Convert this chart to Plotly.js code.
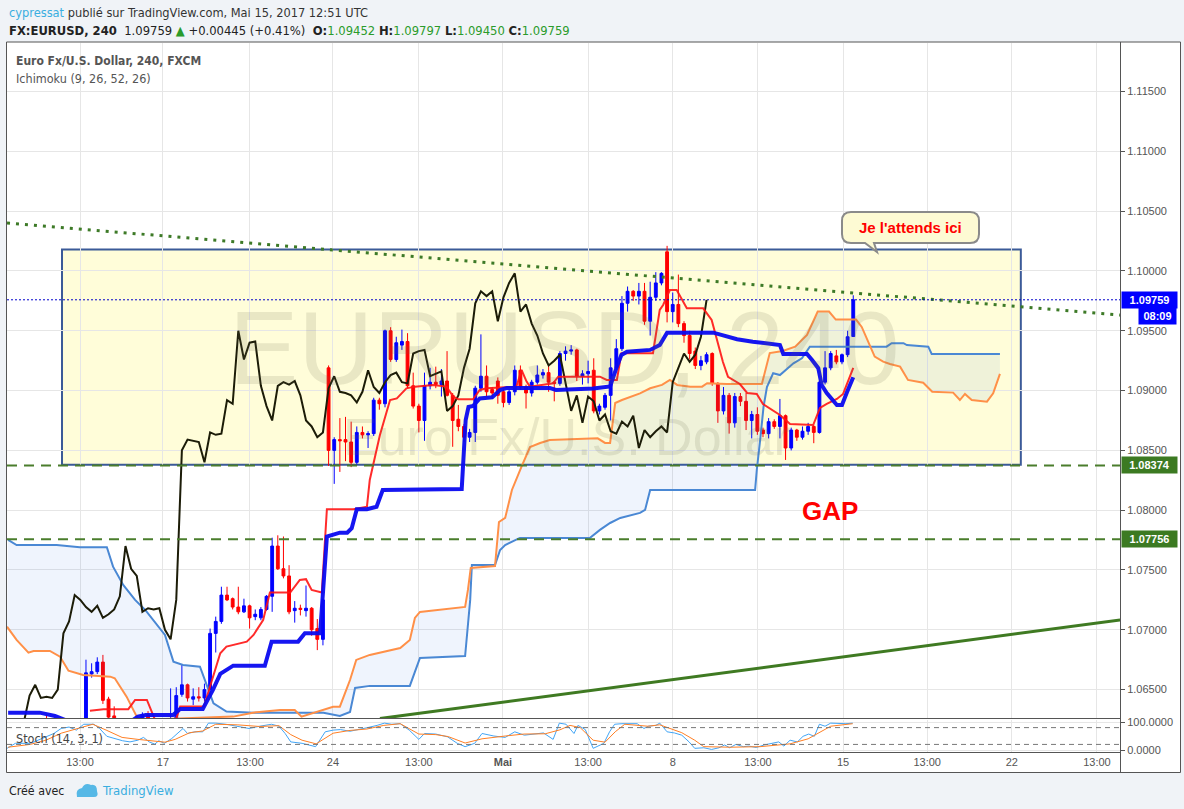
<!DOCTYPE html>
<html><head><meta charset="utf-8">
<script src="https://cdn.plot.ly/plotly-3.0.1.min.js"></script>
<style>html,body{margin:0;padding:0;background:#f0f3f7;}#chart{width:1184px;height:809px;}</style>
</head><body><div id="chart"></div>
<script>
// ---- OHLC, 4h bars (bar index = position in arrays) ----
const openP = [
1.0612,1.0616,1.0618,1.0614,1.0609,1.0612,1.0620,1.0615,1.0611,1.0614,
1.0610,1.0608,1.0612,1.0619,1.0663,1.0665,1.0673,1.0642,1.0628,1.0615,
1.0611,1.0616,1.0613,1.0618,1.0629,1.0622,1.0614,1.0617,1.0620,1.0621,
1.0646,1.0654,1.0642,1.0644,1.0643,1.0650,1.0697,1.0707,1.0729,1.0726,
1.0719,1.0715,1.0720,1.0711,1.0710,1.0717,1.0728,1.0770,1.0751,1.0745,
1.0716,1.0718,1.0716,1.0718,1.0701,1.0692,1.0919,1.0850,1.0859,1.0859,
1.0857,1.0840,1.0865,1.0863,1.0864,1.0892,1.0889,1.0950,1.0926,1.0938,
1.0941,1.0904,1.0887,1.0875,1.0904,1.0907,1.0905,1.0908,1.0896,1.0876,
1.0870,1.0861,1.0865,1.0902,1.0912,1.0901,1.0908,1.0899,1.0890,1.0899,
1.0917,1.0903,1.0898,1.0907,1.0913,1.0915,1.0907,1.0906,1.0931,1.0933,
1.0934,1.0912,1.0914,1.0917,1.0883,1.0886,1.0896,1.0919,1.0935,1.0973,
1.0983,1.0979,1.0983,1.0958,1.0978,1.0990,1.1016,1.0966,1.0972,1.0956,
1.0946,1.0933,1.0921,1.0924,1.0931,1.0906,1.0883,1.0896,1.0873,1.0895,
1.0891,1.0875,1.0880,1.0867,1.0864,1.0874,1.0870,1.0879,1.0852,1.0867,
1.0861,1.0866,1.0870,1.0865,1.0907,1.0919,1.0929,1.0924,1.0930,1.09452];
const highP = [
1.0620,1.0622,1.0624,1.0620,1.0617,1.0623,1.0629,1.0621,1.0618,1.0620,
1.0616,1.0615,1.0622,1.0675,1.0672,1.0677,1.0679,1.0644,1.0636,1.0621,
1.0619,1.0622,1.0620,1.0631,1.0632,1.0625,1.0621,1.0623,1.0651,1.0652,
1.0671,1.0655,1.0651,1.0652,1.0655,1.0701,1.0711,1.0736,1.0736,1.0727,
1.0736,1.0726,1.0721,1.0717,1.0719,1.0729,1.0777,1.0779,1.0778,1.0754,
1.0724,1.0721,1.0737,1.0719,1.0709,1.0726,1.0921,1.0861,1.0877,1.0878,
1.0874,1.0870,1.0870,1.0866,1.0894,1.0894,1.0951,1.0953,1.0945,1.0951,
1.0948,1.0915,1.0889,1.0915,1.0919,1.0920,1.0918,1.0933,1.0898,1.0888,
1.0872,1.0868,1.0904,1.0947,1.0921,1.0903,1.0911,1.0901,1.0901,1.0921,
1.0921,1.0905,1.0909,1.0921,1.0918,1.0921,1.0908,1.0933,1.0937,1.0938,
1.0935,1.0917,1.0925,1.0927,1.0889,1.0898,1.0927,1.0943,1.0979,1.0987,
1.0984,1.0990,1.0990,1.0991,1.0999,1.0999,1.1021,1.0982,1.0997,1.0958,
1.0950,1.0936,1.0929,1.0932,1.0932,1.0907,1.0903,1.0898,1.0898,1.0898,
1.0898,1.0883,1.0886,1.0869,1.0877,1.0876,1.0893,1.0880,1.0869,1.0868,
1.0870,1.0873,1.0871,1.0908,1.0933,1.0933,1.0934,1.0931,1.0950,1.09797];
const lowP = [
1.0605,1.0610,1.0612,1.0606,1.0603,1.0608,1.0611,1.0608,1.0604,1.0607,
1.0602,1.0601,1.0606,1.0612,1.0660,1.0663,1.0638,1.0620,1.0610,1.0605,
1.0604,1.0609,1.0607,1.0615,1.0618,1.0610,1.0606,1.0609,1.0614,1.0616,
1.0644,1.0640,1.0637,1.0640,1.0640,1.0646,1.0681,1.0705,1.0724,1.0717,
1.0713,1.0714,1.0701,1.0708,1.0708,1.0716,1.0715,1.0750,1.0743,1.0713,
1.0706,1.0712,1.0711,1.0695,1.0683,1.0687,1.0837,1.0822,1.0832,1.0841,
1.0836,1.0838,1.0860,1.0852,1.0862,1.0884,1.0886,1.0924,1.0924,1.0934,
1.0902,1.0885,1.0865,1.0858,1.0901,1.0902,1.0895,1.0895,1.0853,1.0866,
1.0857,1.0857,1.0857,1.0899,1.0895,1.0893,1.0889,1.0886,1.0888,1.0896,
1.0901,1.0885,1.0895,1.0905,1.0910,1.0899,1.0891,1.0904,1.0925,1.0930,
1.0908,1.0905,1.0906,1.0881,1.0880,1.0884,1.0875,1.0917,1.0933,1.0966,
1.0975,1.0972,1.0955,1.0946,1.0975,1.0988,1.0957,1.0957,1.0953,1.0940,
1.0926,1.0918,1.0917,1.0922,1.0904,1.0873,1.0880,1.0864,1.0869,1.0887,
1.0867,1.0860,1.0863,1.0861,1.0860,1.0868,1.0860,1.0842,1.0850,1.0858,
1.0859,1.0863,1.0856,1.0864,1.0905,1.0917,1.0922,1.0922,1.0928,1.09450];
const closeP = [
1.0616,1.0618,1.0614,1.0609,1.0612,1.0620,1.0615,1.0611,1.0614,1.0610,
1.0608,1.0612,1.0619,1.0664,1.0665,1.0673,1.0641,1.0627,1.0615,1.0611,
1.0616,1.0613,1.0618,1.0629,1.0622,1.0614,1.0617,1.0620,1.0623,1.0645,
1.0654,1.0643,1.0644,1.0643,1.0650,1.0697,1.0707,1.0729,1.0725,1.0719,
1.0715,1.0720,1.0710,1.0713,1.0717,1.0728,1.0770,1.0751,1.0745,1.0715,
1.0718,1.0717,1.0718,1.0700,1.0692,1.0725,1.0850,1.0859,1.0858,1.0857,
1.0840,1.0865,1.0863,1.0864,1.0892,1.0889,1.0950,1.0926,1.0940,1.0941,
1.0904,1.0887,1.0875,1.0904,1.0907,1.0905,1.0908,1.0896,1.0875,1.0870,
1.0861,1.0865,1.0902,1.0912,1.0899,1.0898,1.0896,1.0890,1.0899,1.0917,
1.0903,1.0898,1.0907,1.0913,1.0915,1.0907,1.0906,1.0931,1.0933,1.0934,
1.0912,1.0914,1.0916,1.0883,1.0887,1.0896,1.0919,1.0935,1.0973,1.0983,
1.0979,1.0983,1.0958,1.0978,1.0990,1.0998,1.0966,1.0972,1.0956,1.0946,
1.0931,1.0921,1.0925,1.0930,1.0906,1.0883,1.0896,1.0873,1.0895,1.0891,
1.0875,1.0880,1.0866,1.0864,1.0874,1.0870,1.0879,1.0852,1.0867,1.0861,
1.0866,1.0870,1.0865,1.0907,1.0919,1.0931,1.0924,1.0930,1.0945,1.09759];

// ---- Ichimoku (9, 26, 52, 26): line vertices (bar index, price) ----
const tenkanX = [13.7,16.1,20.5,21.7,23.8,24.6,25.4,28.8,29.7,33.9,35.6,36.8,37.9,39.1,41.5,42.7,44.4,45.6,49.2,50.9,52.0,53.0,54.8,55.7,60.4,62.8,63.3,65.1,66.9,68.1,69.8,71.3,74.5,76.9,78.1,79.0,81.6,82.8,84.0,89.3,90.2,91.1,91.7,95.8,96.7,104.1,105.3,107.1,107.9,113.5,114.7,115.3,116.5,117.7,119.5,122.4,123.9,125.9,126.8,128.9,130.2,131.9,133.0,136.0,137.8,141.9,143.1,144.3,146.1,147.2,149.0];
const tenkanY = [1.06324,1.06336,1.06336,1.06414,1.06414,1.06316,1.06229,1.06229,1.06358,1.06358,1.06608,1.06804,1.06859,1.06873,1.06901,1.06957,1.07082,1.07311,1.07311,1.07417,1.07423,1.07333,1.07311,1.08008,1.08008,1.08029,1.08253,1.08629,1.08921,1.08935,1.09019,1.09033,1.09047,1.09033,1.08949,1.08927,1.08927,1.09005,1.09019,1.09033,1.09172,1.09075,1.09033,1.09061,1.09116,1.09116,1.09089,1.09089,1.09312,1.09312,1.09674,1.09716,1.09841,1.09841,1.09688,1.09688,1.09590,1.09239,1.09114,1.09055,1.08980,1.08972,1.08888,1.08796,1.08721,1.08712,1.08855,1.08888,1.08930,1.08972,1.09189];
const kijunX = [-0.8,4.8,7.5,10.2,20.8,22.2,23.6,28.4,29.7,33.7,35.5,36.8,39.1,44.7,45.9,50.6,51.8,54.5,55.7,58.0,59.3,60.1,61.0,62.8,64.5,65.6,79.6,80.3,80.8,81.6,82.8,85.0,86.4,87.6,95.2,96.3,102.9,105.9,107.1,107.9,108.9,113.0,114.7,116.0,124.2,126.6,128.4,131.2,136.0,136.6,140.8,141.7,142.8,143.4,144.3,146.1,147.0,147.9,149.0];
const kijunY = [1.06307,1.06307,1.06279,1.06229,1.06229,1.06274,1.06288,1.06288,1.06338,1.06338,1.06497,1.06631,1.06700,1.06700,1.06901,1.06901,1.06971,1.06971,1.07779,1.07812,1.07812,1.07849,1.08008,1.08008,1.08029,1.08169,1.08177,1.08754,1.08863,1.08871,1.08934,1.08944,1.09005,1.09022,1.09022,1.09005,1.09018,1.09034,1.09200,1.09298,1.09325,1.09340,1.09381,1.09484,1.09484,1.09451,1.09429,1.09409,1.09381,1.09306,1.09306,1.09256,1.09187,1.09047,1.08980,1.08880,1.08880,1.08988,1.09111];
const senkouAX = [-1.0,0.7,2.8,3.7,6.6,8.4,9.9,12.5,17.3,18.1,20.2,22.3,39.1,42.6,47.4,50.0,51.2,56.8,58.0,59.8,60.9,63.3,68.7,70.4,71.3,72.2,80.2,80.7,81.2,85.5,86.2,87.3,88.5,89.2,90.2,91.7,93.5,95.2,103.7,105.0,105.9,106.8,108.0,111.2,113.0,115.1,116.5,117.8,120.1,122.2,123.1,126.6,132.8,134.2,136.5,138.7,140.8,142.7,144.7,145.9,149.5,150.5,151.6,152.8,154.3,155.5,157.3,158.7,161.4,163.0,166.7,167.9,168.8,170.0,172.7,173.8,175.0];
const senkouAY = [1.07026,1.06915,1.06809,1.06823,1.06823,1.06775,1.06658,1.06622,1.06608,1.06595,1.06441,1.06246,1.06274,1.06307,1.06329,1.06329,1.06274,1.06357,1.06357,1.06580,1.06748,1.06790,1.06848,1.06915,1.07099,1.07149,1.07191,1.07333,1.07517,1.07533,1.07901,1.07935,1.08169,1.08253,1.08364,1.08528,1.08562,1.08587,1.08601,1.08562,1.08562,1.08896,1.08921,1.08977,1.09019,1.09047,1.09089,1.09047,1.09033,1.09033,1.09061,1.09055,1.09055,1.09314,1.09331,1.09367,1.09465,1.09661,1.09661,1.09594,1.09594,1.09532,1.09409,1.09284,1.09242,1.09222,1.09200,1.09089,1.09066,1.08991,1.08983,1.08921,1.08972,1.08921,1.08907,1.08977,1.09139];
const senkouBX = [-0.8,0.7,7.8,11.9,16.7,17.8,19.6,21.7,23.5,25.5,27.0,28.5,30.2,33.2,35.6,37.9,42.7,55.1,58.0,59.8,60.7,63.3,70.4,71.3,72.2,80.2,81.1,81.4,85.5,86.4,87.3,89.9,102.3,104.1,105.9,107.7,111.2,112.1,113.0,131.6,131.9,132.5,133.1,133.7,134.8,136.0,138.4,139.9,141.3,154.9,155.8,157.9,158.5,162.3,162.9,175.0];
const senkouBY = [1.07751,1.07709,1.07709,1.07690,1.07690,1.07528,1.07375,1.07250,1.07166,1.07041,1.06957,1.06734,1.06706,1.06692,1.06386,1.06316,1.06307,1.06307,1.06279,1.06313,1.06514,1.06531,1.06531,1.06648,1.06765,1.06781,1.07250,1.07542,1.07542,1.07667,1.07709,1.07768,1.07768,1.07835,1.07893,1.07935,1.07977,1.08002,1.08169,1.08169,1.08336,1.08587,1.08865,1.09030,1.09145,1.09130,1.09228,1.09270,1.09367,1.09367,1.09396,1.09396,1.09381,1.09367,1.09306,1.09306];
const chikouShift = 26;

// ---- Stoch (14, 3, 1): vertices (bar index, value) ----
const stochKX = [-1.0,0.5,3.2,4.5,5.9,7.3,8.6,10.0,11.3,12.6,14.4,15.4,16.7,18.1,19.5,20.8,22.2,23.2,24.2,25.2,25.9,26.9,28.2,30.2,31.0,32.3,33.7,34.7,36.0,37.8,39.8,41.9,43.8,45.9,47.2,48.3,49.3,51.3,53.7,55.4,56.8,58.1,59.8,61.5,62.9,64.6,65.9,67.2,68.7,70.3,72.0,73.0,75.0,77.1,78.8,80.2,81.9,83.2,85.3,87.3,89.0,90.7,92.7,94.1,95.8,96.9,98.1,99.5,100.2,101.5,102.9,104.1,104.8,105.8,106.7,108.0,109.4,110.7,111.9,112.7,114.0,114.7,116.0,117.3,118.6,119.9,120.9,122.5,123.9,125.2,126.2,127.1,128.2,129.5,130.5,131.8,133.2,134.4,135.8,136.7,137.8,139.1,140.1,141.1,142.1,143.0,144.0,145.0,146.3,147.7,148.9];
const stochKY = [6,24,24,35,45,59,77,82,71,92,92,77,49,41,33,29,35,45,29,21,33,24,41,77,59,65,65,96,96,92,85,77,85,92,85,59,29,24,12,65,71,73,67,73,80,88,96,92,94,71,38,59,57,47,24,12,24,59,50,45,65,53,59,61,38,96,92,59,88,73,6,18,24,65,92,94,94,94,77,85,88,96,65,61,53,29,6,8,2,8,18,8,20,12,14,9,18,24,29,14,35,29,49,57,49,92,85,96,94,94,96];
const stochDX = [-0.8,3.1,5.9,8.6,11.2,14.2,16.7,19.4,22.2,25.2,27.0,28.8,31.4,33.7,36.0,39.8,43.8,47.2,49.3,51.3,53.8,56.8,59.8,62.8,65.8,68.7,72.0,75.0,77.2,80.2,83.2,87.3,90.6,94.4,97.0,98.8,100.6,102.9,105.0,106.8,108.5,112.6,114.7,118.6,120.9,122.5,127.2,132.5,137.8,141.0,142.9,145.0,148.9];
const stochDY = [10,20,35,60,75,92,70,45,38,33,28,38,62,68,92,90,84,87,55,35,22,60,70,75,88,94,57,55,48,25,40,50,57,58,72,88,80,35,28,65,92,85,90,62,35,12,10,12,22,40,60,85,94];

// ---- axis labels ----
const timeTickPos = [11.94,26.65,42.07,56.78,72.0,86.9,102.0,117.0,132.1,147.2,162.1,177.1,192.2];
const timeTickText = ["13:00","17","13:00","24","13:00","<b>Mai</b>","13:00","8","13:00","15","13:00","22","13:00"];
const priceTicks = [1.065,1.070,1.075,1.080,1.085,1.090,1.095,1.100,1.105,1.110,1.115];
const lastPrice = 1.09759, gapTop = 1.08374, gapBottom = 1.07756;
const boxLow = 1.0838, boxHigh = 1.1018, boxFrom = 8.75, boxTo = 178.7;
const trendDots = {x0:-1.0, y0:1.10401, x1:196.3, y1:1.09632};
const trendUp = {x0:65.1, y0:1.06258, x1:196.3, y1:1.07082};

// ---- pixel helpers for decorations ----
const PX0=7, PX1=1120, PY0=43, PY1=752;
const px = x => (x-PX0)/(PX1-PX0);
const py = y => (PY1-y)/(PY1-PY0);
function pathPx(cmds){
  return cmds.map(c=>{let s=c[0];for(let k=1;k<c.length;k+=2){s+=' '+px(c[k]).toFixed(5)+','+py(c[k+1]).toFixed(5);}return s;}).join(' ')+' Z';
}

const idx = openP.map((_,i)=>i);
const chX = closeP.map((_,i)=>i-chikouShift);

const FONT = '"Liberation Sans Narrow","DejaVu Sans Condensed","Liberation Sans",Arial,sans-serif';
const AFONT = '"Liberation Sans",Arial,sans-serif';

const traces = [
  {type:'scatter',mode:'lines',x:senkouBX,y:senkouBY,line:{color:'#4a88d4',width:2},xaxis:'x',yaxis:'y',hoverinfo:'skip'},
  {type:'scatter',mode:'lines',x:senkouAX,y:senkouAY,line:{color:'#ff9048',width:2},fill:'tonexty',fillcolor:'rgba(40,110,230,0.075)',xaxis:'x',yaxis:'y',hoverinfo:'skip'},
  {type:'candlestick',x:idx,open:openP,high:highP,low:lowP,close:closeP,xaxis:'x',yaxis:'y',whiskerwidth:0,
    increasing:{line:{color:'#0000ff',width:1},fillcolor:'#0000ff'},
    decreasing:{line:{color:'#ff0000',width:1},fillcolor:'#ff0000'},hoverinfo:'skip'},
  {type:'scatter',mode:'lines',x:chX,y:closeP,line:{color:'#1c1c08',width:2},xaxis:'x',yaxis:'y',hoverinfo:'skip'},
  {type:'scatter',mode:'lines',x:tenkanX,y:tenkanY,line:{color:'rgba(255,20,20,0.9)',width:2},xaxis:'x',yaxis:'y',hoverinfo:'skip'},
  {type:'scatter',mode:'lines',x:kijunX,y:kijunY,line:{color:'rgba(10,10,240,0.95)',width:4},xaxis:'x',yaxis:'y',hoverinfo:'skip'},
  {type:'scatter',mode:'lines',x:stochKX,y:stochKY,line:{color:'#42a5f5',width:1},xaxis:'x',yaxis:'y2',hoverinfo:'skip'},
  {type:'scatter',mode:'lines',x:stochDX,y:stochDY,line:{color:'#ff7f24',width:1},xaxis:'x',yaxis:'y2',hoverinfo:'skip'}
];

const shapes = [
  {type:'rect',xref:'paper',yref:'paper',x0:px(6.5),x1:px(1180.5),y0:py(42),y1:py(772.5),fillcolor:'#ffffff',line:{width:0},layer:'below'},
  {type:'rect',xref:'x',yref:'y',x0:boxFrom,x1:boxTo,y0:boxLow,y1:boxHigh,fillcolor:'rgba(255,250,170,0.45)',line:{color:'#3b5a98',width:2},layer:'below'},
  {type:'line',xref:'x',yref:'y',x0:trendDots.x0,y0:trendDots.y0,x1:trendDots.x1,y1:trendDots.y1,line:{color:'#3d7a27',width:3,dash:'3px,6px'},layer:'above'},
  {type:'line',xref:'x',yref:'y',x0:trendUp.x0,y0:trendUp.y0,x1:trendUp.x1,y1:trendUp.y1,line:{color:'#3f7a22',width:3},layer:'above'},
  {type:'line',xref:'paper',yref:'y',x0:0,x1:1,y0:gapTop,y1:gapTop,line:{color:'#4a7d2c',width:2,dash:'10px,7px'},layer:'above'},
  {type:'line',xref:'paper',yref:'y',x0:0,x1:1,y0:gapBottom,y1:gapBottom,line:{color:'#4a7d2c',width:2,dash:'10px,7px'},layer:'above'},
  {type:'line',xref:'paper',yref:'y',x0:0,x1:1,y0:lastPrice,y1:lastPrice,line:{color:'#0000cc',width:1,dash:'2px,2px'},layer:'above'},
  {type:'line',xref:'paper',yref:'y2',x0:0,x1:1,y0:80,y1:80,line:{color:'#777',width:1,dash:'5px,4px'}},
  {type:'line',xref:'paper',yref:'y2',x0:0,x1:1,y0:20,y1:20,line:{color:'#777',width:1,dash:'5px,4px'}},
  {type:'line',xref:'paper',yref:'paper',x0:px(7),x1:px(1120),y0:py(718.5),y1:py(718.5),line:{color:'#555',width:1.2}},
  {type:'line',xref:'paper',yref:'paper',x0:px(1120.5),x1:px(1120.5),y0:py(42),y1:py(772.5),line:{color:'#555',width:1}},
  {type:'rect',xref:'paper',yref:'paper',x0:px(6.5),x1:px(1180.5),y0:py(42),y1:py(772.5),line:{color:'#555',width:1},fillcolor:'rgba(0,0,0,0)',layer:'above'},
  {type:'path',xref:'paper',yref:'paper',layer:'above',fillcolor:'#fdfad3',line:{color:'#8a8a8a',width:2},
   path:pathPx([['M',851,212],['L',970,212],['Q',979,212,979,221],['L',979,234],['Q',979,243,970,243],['L',874,243],['L',877,252],['L',865,243],['L',851,243],['Q',842,243,842,234],['L',842,221],['Q',842,212,851,212]])},
  {type:'path',xref:'paper',yref:'paper',layer:'above',fillcolor:'#56b8e6',line:{width:0},
   path:pathPx([['M',77,797],['Q',75,789,82,788],['Q',85,782,91,785],['Q',97,784,97,791],['Q',99,797,94,797]])}
];

function ann(text,x,y,font,extra){return Object.assign({text:text,x:px(x),y:py(y),xref:'paper',yref:'paper',showarrow:false,xanchor:'left',yanchor:'middle',font:font},extra||{});}
const G='#2b9b2b';
const annotations = [
  ann('<span style="color:#3aaee0">cypressat</span> publié sur TradingView.com, Mai 15, 2017 12:51 UTC',7,12,{family:FONT,size:12.7,color:'#333'}),
  ann('<b>FX:EURUSD, 240</b>  1.09759 <span style="color:'+G+'">▲</span> +0.00445 (+0.41%)  <b>O:</b><span style="color:'+G+'">1.09452</span> <b>H:</b><span style="color:'+G+'">1.09797</span> <b>L:</b><span style="color:'+G+'">1.09450</span> <b>C:</b><span style="color:'+G+'">1.09759</span>',7,30,{family:FONT,size:12.9,color:'#222'}),
  ann('<b>Euro Fx/U.S. Dollar, 240, FXCM</b>',14,61,{family:FONT,size:12,color:'#555'}),
  ann('Ichimoku (9, 26, 52, 26)',14,78,{family:FONT,size:12.5,color:'#555'}),
  ann('EURUSD, 240',564,348,{family:AFONT,size:104,color:'rgba(110,110,80,0.15)'},{xanchor:'center'}),
  ann('Euro Fx/U.S. Dollar',567,437,{family:AFONT,size:52,color:'rgba(110,110,80,0.15)'},{xanchor:'center'}),
  ann('<b>Je l\'attends ici</b>',910,227,{family:AFONT,size:15,color:'#ff0000'},{xanchor:'center'}),
  ann('<b>GAP</b>',830,511,{family:AFONT,size:26,color:'#ff0000'},{xanchor:'center'}),
  ann('Stoch (14, 3, 1)',14,738,{family:FONT,size:12.5,color:'#444'}),
  ann('Créé avec',7,791,{family:FONT,size:12.3,color:'#222'}),
  ann('TradingView',100,791,{family:FONT,size:13,color:'#3aaee0'}),
  {text:'<b>1.09759</b>',x:px(1121),y:lastPrice,xref:'paper',yref:'y',xanchor:'left',yanchor:'middle',showarrow:false,bgcolor:'#0000ff',font:{family:AFONT,size:11,color:'#fff'},width:53,height:14,borderpad:1},
  {text:'<b>08:09</b>',x:px(1177),y:1.09624,xref:'paper',yref:'y',xanchor:'right',yanchor:'middle',showarrow:false,bgcolor:'#0000ff',font:{family:AFONT,size:11,color:'#fff'},width:35,height:14,borderpad:1},
  {text:'<b>1.08374</b>',x:px(1121),y:gapTop,xref:'paper',yref:'y',xanchor:'left',yanchor:'middle',showarrow:false,bgcolor:'#3c7a22',font:{family:AFONT,size:11,color:'#fff'},width:53,height:14,borderpad:1},
  {text:'<b>1.07756</b>',x:px(1121),y:gapBottom,xref:'paper',yref:'y',xanchor:'left',yanchor:'middle',showarrow:false,bgcolor:'#3c7a22',font:{family:AFONT,size:11,color:'#fff'},width:53,height:14,borderpad:1}
];

const layout = {
  width:1184,height:809,margin:{l:PX0,r:1184-PX1,t:PY0,b:809-PY1,pad:0},
  paper_bgcolor:'#f0f3f7',plot_bgcolor:'#ffffff',showlegend:false,boxgap:0.28,
  xaxis:{anchor:'y2',range:[-1.0,196.28],tickvals:timeTickPos,ticktext:timeTickText,showgrid:true,gridcolor:'#e6e6e6',
         zeroline:false,showline:true,linecolor:'#555',linewidth:1,ticks:'',tickfont:{family:AFONT,size:11,color:'#555'},
         rangeslider:{visible:false},fixedrange:true},
  yaxis:{domain:[0.0472,1],range:[1.06258,1.11906],side:'right',tickvals:priceTicks,ticktext:priceTicks.map(v=>v.toFixed(5)),
         showgrid:true,gridcolor:'#e6e6e6',zeroline:false,showline:false,ticks:'outside',ticklen:4,tickcolor:'#555',
         tickfont:{family:AFONT,size:11,color:'#555'},fixedrange:true},
  yaxis2:{domain:[0,0.0458],range:[-7.1,108.9],side:'right',anchor:'x',tickvals:[0,100],ticktext:['0.0000','100.0000'],
         showgrid:true,gridcolor:'#e6e6e6',zeroline:false,ticks:'outside',ticklen:4,tickcolor:'#555',
         tickfont:{family:AFONT,size:11,color:'#555'},fixedrange:true},
  shapes:shapes,annotations:annotations
};
Plotly.newPlot('chart',traces,layout,{displayModeBar:false,staticPlot:true});
</script></body></html>
